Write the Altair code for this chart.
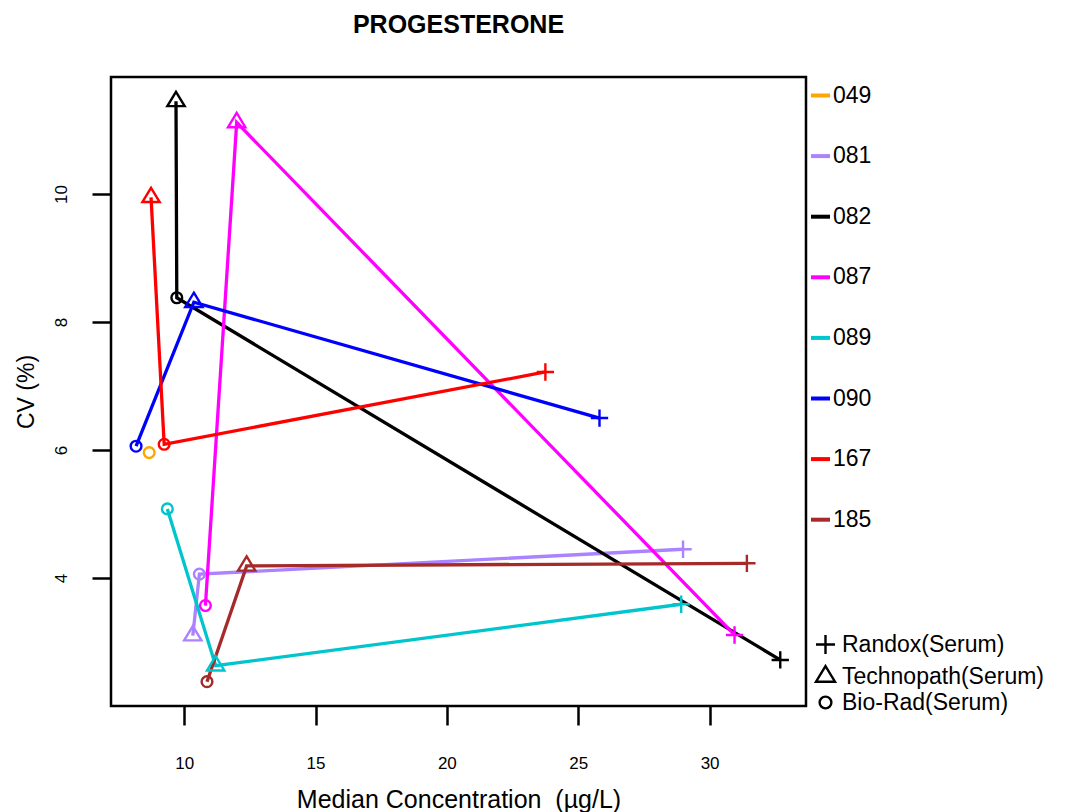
import altair as alt
import pandas as pd

labs = ["049", "081", "082", "087", "089", "090", "167", "185"]
lab_colors = ["#FFA500", "#AB82FF", "#000000", "#FF00FF", "#00C5CD", "#0000FF", "#FF0000", "#A52A2A"]
methods = ["Randox(Serum)", "Technopath(Serum)", "Bio-Rad(Serum)"]

pt_lab = ["049",
          "081", "081", "081",
          "082", "082", "082",
          "087", "087", "087",
          "089", "089", "089",
          "090", "090", "090",
          "167", "167", "167",
          "185", "185", "185"]
pt_method = ["Bio-Rad(Serum)"] + ["Randox(Serum)", "Technopath(Serum)", "Bio-Rad(Serum)"] * 7
pt_x = [8.67,
        28.99, 10.33, 10.58,
        32.69, 9.69, 9.72,
        30.95, 12.00, 10.81,
        28.92, 11.20, 9.36,
        25.81, 10.37, 8.17,
        23.75, 8.74, 9.24,
        31.42, 12.38, 10.87]
pt_y = [5.96,
        4.45, 3.10, 4.06,
        2.72, 11.45, 8.38,
        3.11, 11.12, 3.57,
        3.59, 2.63, 5.08,
        6.50, 8.31, 6.06,
        7.22, 9.95, 6.09,
        4.23, 4.19, 2.38]

x_ticks = [10, 15, 20, 25, 30]
y_ticks = [4, 6, 8, 10]

df = pd.DataFrame({"lab": pt_lab, "method": pt_method, "conc": pt_x, "cv": pt_y})

FONT = "Liberation Sans"

plus_path = "M-1,0L1,0M0,-1L0,1"
tri_path = "M0,-1.1L1,0.55L-1,0.55Z"
circ_path = "M-0.62,0A0.62,0.62 0 1,1 0.62,0A0.62,0.62 0 1,1 -0.62,0Z"

x_enc = alt.X("conc:Q",
              scale=alt.Scale(domain=[7.216, 33.67], nice=False, zero=False),
              axis=alt.Axis(values=x_ticks, title="Median Concentration \u00a0(µg/L)",
                            grid=False, domain=False, tickSize=19, tickWidth=2.5,
                            tickColor="black", labelPadding=30, labelFontSize=17,
                            labelFont=FONT, labelColor="black",
                            titleFont=FONT, titleFontSize=25, titleFontWeight="normal",
                            titleColor="black", titleY=101, titleBaseline="alphabetic"))
y_enc = alt.Y("cv:Q",
              scale=alt.Scale(domain=[2.0, 11.83], nice=False, zero=False),
              axis=alt.Axis(values=y_ticks, title="CV (%)", grid=False, domain=False,
                            tickSize=19, tickWidth=2.5, tickColor="black",
                            labelAngle=270, labelAlign="center", labelBaseline="bottom",
                            labelPadding=22, labelFontSize=17, labelFont=FONT,
                            labelColor="black",
                            titleFont=FONT, titleFontSize=23, titleFontWeight="normal",
                            titleColor="black", titleAngle=270, titleX=-78,
                            titleY=314.5, titleAlign="center",
                            titleBaseline="alphabetic"))

color_enc = alt.Color("lab:N",
                      scale=alt.Scale(domain=labs, range=lab_colors),
                      legend=alt.Legend(title=None, orient="none", legendX=698, legendY=7,
                                        symbolType="stroke", symbolStrokeWidth=4,
                                        symbolSize=361, labelFontSize=23, labelFont=FONT,
                                        labelColor="black", labelOffset=1, rowPadding=36.6,
                                        labelLimit=0, direction="vertical"))

lines = alt.Chart(df).mark_line(strokeWidth=3.3).encode(
    x=x_enc, y=y_enc, color=color_enc, detail="lab:N", order="conc:Q"
)

points = alt.Chart(df).mark_point(filled=False, strokeWidth=2.4, size=300, opacity=1).encode(
    x=x_enc, y=y_enc, color=color_enc,
    shape=alt.Shape("method:N",
                    scale=alt.Scale(domain=methods, range=[plus_path, tri_path, circ_path]),
                    legend=alt.Legend(title=None, orient="none", legendX=703, legendY=556,
                                      symbolStrokeColor="black", symbolFillColor="transparent",
                                      symbolStrokeWidth=2.4, symbolSize=361,
                                      labelFontSize=23, labelFont=FONT, labelColor="black",
                                      labelOffset=5, rowPadding=2, labelLimit=0,
                                      direction="vertical"))
)

chart = alt.layer(lines, points).properties(
    width=695, height=629,
    background="white",
    title=alt.TitleParams("PROGESTERONE", font=FONT, fontSize=25, fontWeight="bold",
                          color="black", anchor="middle", frame="group", offset=19,
                          baseline="alphabetic"),
    autosize=alt.AutoSizeParams(type="none"),
    padding={"left": 111, "top": 77, "right": 262, "bottom": 106},
).configure_view(stroke="black", strokeWidth=2.5)

chart.save("out.html", embed_options={"renderer": "svg", "actions": False})
